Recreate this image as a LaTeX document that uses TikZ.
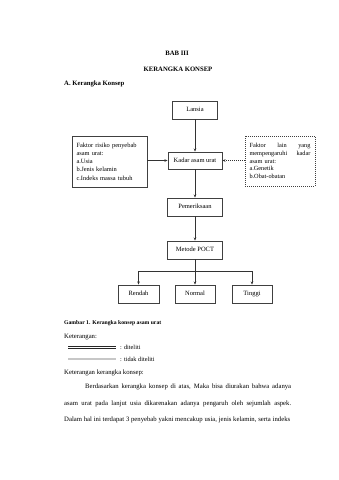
\documentclass[tikz,border=0pt]{standalone}
\usepackage{fontspec}
\setmainfont{Liberation Serif}
\usetikzlibrary{arrows.meta}
\begin{document}
\begin{tikzpicture}[x=1pt,y=-1pt,
  box/.style={draw=black!75,line width=0.85pt,inner sep=0pt,font=\fontsize{6.5}{7.8}\selectfont},
  sbox/.style={box,text height=4.6pt,text depth=1.5pt},
  dbox/.style={box,dash pattern=on 1pt off 1pt,line width=0.7pt},
  arr/.style={-{Stealth[length=3.2pt,width=2.6pt]},draw=black!80,line width=0.55pt},
  ln/.style={draw=black!80,line width=0.55pt},
  body/.style={inner sep=0pt,font=\fontsize{6.7}{8}\selectfont},
  bodyb/.style={inner sep=0pt,font=\fontsize{6.7}{8}\selectfont\bfseries},
]
\useasboundingbox (0,0) rectangle (339,480);

% titles
\node[bodyb] (bab) at (177,53) {BAB III};
\node[bodyb] (judul) at (178,69.5) {KERANGKA KONSEP};
\node[bodyb,anchor=west] (sub) at (64,84) {A. Kerangka Konsep};

% boxes
\node[sbox,minimum width=45pt,minimum height=18pt] (lansia) at (195,110) {Lansia};
\node[sbox,minimum width=54pt,minimum height=17pt] (kadar) at (195,160.5) {Kadar asam urat};
\node[sbox,minimum width=55pt,minimum height=18pt] (periksa) at (195,207) {Pemeriksaan};
\node[sbox,minimum width=55pt,minimum height=18pt] (metode) at (195,250) {Metode POCT};
\node[sbox,minimum width=41pt,minimum height=18pt] (rendah) at (138.5,294) {Rendah};
\node[sbox,minimum width=40pt,minimum height=18pt] (normal) at (195,294) {Normal};
\node[sbox,minimum width=40pt,minimum height=18pt] (tinggi) at (252,294) {Tinggi};

\node[box,minimum height=51pt,inner xsep=4.5pt,text width=66pt,align=left,
  font=\fontsize{6.4}{8.2}\selectfont] (kiri) at (109.5,161.5)
  {Faktor risiko penyebab\\asam urat:\\a.Usia\\b.Jenis kelamin\\c.Indeks massa tubuh};

\node[dbox,minimum height=50pt,inner xsep=4.5pt,text width=61pt,align=left,
  font=\fontsize{6.3}{7.6}\selectfont] (kanan) at (280,161)
  {\makebox[61pt][l]{Faktor\hfill lain\hfill yang}\\\makebox[61pt][l]{mempengaruhi\hfill kadar}\\asam urat:\\a.Genetik\\b.Obat-obatan};

% connectors
\draw[arr] (lansia.south) -- (kadar.north);
\draw[arr] (kiri.east |- kadar.west) -- (kadar.west);
\draw[arr,dash pattern=on 1pt off 1pt] (kanan.west |- kadar.east) -- (kadar.east);
\draw[arr] (kadar.south) -- (periksa.north);
\draw[arr] (periksa.south) -- (metode.north);
\coordinate (br) at (195,271);
\draw[arr] (metode.south) -- (normal.north);
\draw[ln] (rendah.north |- br) -- (tinggi.north |- br);
\draw[arr] (rendah.north |- br) -- (rendah.north);
\draw[arr] (tinggi.north |- br) -- (tinggi.north);

% caption and legend
\node[inner sep=0pt,anchor=west,font=\fontsize{5.7}{6.8}\selectfont\bfseries] (cap) at (64,323) {Gambar 1. Kerangka konsep asam urat};
\node[body,anchor=west] (ket) at (64,337.5) {Keterangan:};
\coordinate (l1a) at (68,347.5); \coordinate (l1b) at (116,347.5);
\coordinate (l2a) at (68,359); \coordinate (l2b) at (116,359);
\draw[draw=black!85,line width=0.6pt,double=white,double distance=1.2pt] (l1a) -- (l1b);
\draw[draw=black!55,line width=0.6pt,double=black!22,double distance=1.2pt] (l2a) -- (l2b);
\node[inner sep=0pt,anchor=west,font=\fontsize{6.3}{7.6}\selectfont] (t1) at (120,347.5) {: diteliti};
\node[inner sep=0pt,anchor=west,font=\fontsize{6.3}{7.6}\selectfont] (t2) at (120,359) {: tidak diteliti};

\node[body,anchor=west] (ket2) at (64,373) {Keterangan kerangka konsep:};
\node[body,anchor=west] (p1) at (85,387) {\makebox[206pt][s]{Berdasarkan kerangka konsep di atas, Maka bisa diurakan bahwa adanya}};
\node[body,anchor=west] (p2) at (64,403.5) {\makebox[227pt][s]{asam urat pada lanjut usia dikarenakan adanya pengaruh oleh sejumlah aspek.}};
\node[body,anchor=west] (p3) at (64,420) {\makebox[226pt][s]{Dalam hal ini terdapat 3 penyebab yakni mencakup usia, jenis kelamin, serta indeks}};
\end{tikzpicture}
\end{document}
